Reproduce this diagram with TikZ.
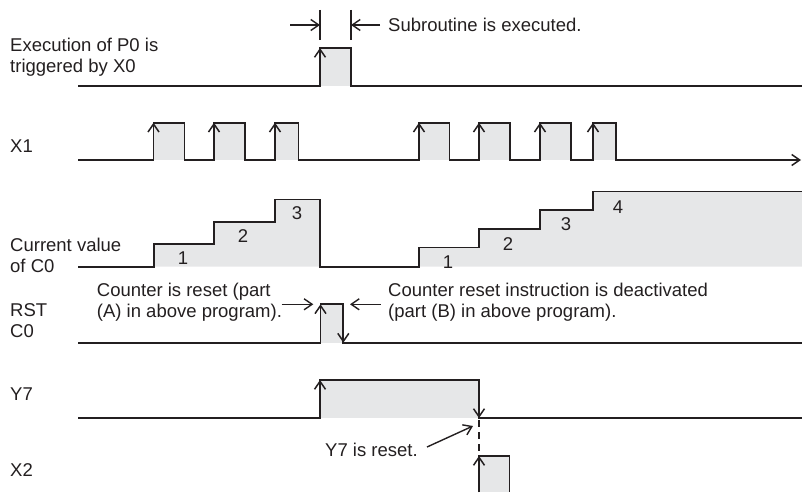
\documentclass[tikz,border=0pt]{standalone}
\usepackage{fontspec}
\setmainfont{Liberation Sans}
\usetikzlibrary{arrows.meta}
\definecolor{ink}{HTML}{231F20}
\definecolor{pulsefill}{HTML}{E6E7E8}
\begin{document}
\begin{tikzpicture}[x=1pt,y=-1pt,
  wave/.style={draw=ink,line width=1.8pt,line join=miter},
  hi/.style={fill=pulsefill,draw=none},
  edgetip/.style={draw=ink,line width=1.8pt,-{Straight Barb[length=8pt,width=11pt,line width=1.5pt]}},
  pointer/.style={draw=ink,line width=1.4pt,-{Straight Barb[length=8pt,width=11pt,line width=1.4pt]}},
  tick/.style={draw=ink,line width=1.4pt},
  lbl/.style={anchor=west,inner sep=0pt,text=ink,font=\fontsize{18.5}{21}\selectfont,align=left},
]
\useasboundingbox (0,0) rectangle (802,492);

% ---------- signal names ----------
\node[lbl] (nP0)  at (10,57)  {Execution of P0 is\\triggered by X0};
\node[lbl] (nX1)  at (10,146) {X1};
\node[lbl] (nC0)  at (10,255) {Current value\\of C0};
\node[lbl] (nRST) at (10,321) {RST\\C0};
\node[lbl] (nY7)  at (10,394) {Y7};
\node[lbl] (nX2)  at (10,470) {X2};

% ---------- P0 execution ----------
\fill[hi] (320,48) rectangle (351,86);
\draw[wave] (78,86) -- (320,86) -- (320,48) -- (351,48) -- (351,86) -- (802,86);
\draw[edgetip] (320,86) -- (320,48);

% subroutine duration marker
\draw[tick] (320,10) -- (320,40);
\draw[tick] (351,10) -- (351,40);
\coordinate (durL) at (290,25);
\coordinate (durR) at (380,25);
\draw[pointer] (durL) -- (320,25);
\draw[pointer] (durR) -- (351,25);
\node[lbl] (nSub) at (388,25) {Subroutine is executed.};

% ---------- X1 ----------
\foreach \a/\b in {153.5/184.5,214/245,275/298.5,419/449.5,479/510,540/571,593/616}{
  \fill[hi] (\a,122.7) rectangle (\b,160);
}
\draw[wave,-{Straight Barb[length=8pt,width=11pt,line width=1.5pt]}]
  (78,160)
  -- (153.5,160) -- (153.5,122.7) -- (184.5,122.7) -- (184.5,160)
  -- (214,160) -- (214,122.7) -- (245,122.7) -- (245,160)
  -- (275,160) -- (275,122.7) -- (298.5,122.7) -- (298.5,160)
  -- (419,160) -- (419,122.7) -- (449.5,122.7) -- (449.5,160)
  -- (479,160) -- (479,122.7) -- (510,122.7) -- (510,160)
  -- (540,160) -- (540,122.7) -- (571,122.7) -- (571,160)
  -- (593,160) -- (593,122.7) -- (616,122.7) -- (616,160)
  -- (801,160);
\foreach \a in {153.5,214,275,419,479,540,593}{
  \draw[edgetip] (\a,160) -- (\a,122.7);
}

% ---------- current value of C0 ----------
\fill[hi] (154,266.7) -- (154,244) -- (214,244) -- (214,222) -- (275,222)
  -- (275,199.5) -- (320,199.5) -- (320,266.7) -- cycle;
\fill[hi] (419,266.7) -- (419,247.5) -- (479,247.5) -- (479,229) -- (540,229)
  -- (540,210) -- (593,210) -- (593,191.5) -- (802,191.5) -- (802,266.7) -- cycle;
\draw[wave] (78,266.7) -- (154,266.7) -- (154,244) -- (214,244) -- (214,222)
  -- (275,222) -- (275,199.5) -- (320,199.5) -- (320,266.7) -- (419,266.7)
  -- (419,247.5) -- (479,247.5) -- (479,229) -- (540,229) -- (540,210)
  -- (593,210) -- (593,191.5) -- (802,191.5);
\node[lbl,anchor=center] (v1a) at (183,258) {1};
\node[lbl,anchor=center] (v2a) at (243,236) {2};
\node[lbl,anchor=center] (v3a) at (297,213) {3};
\node[lbl,anchor=center] (v1b) at (448,262) {1};
\node[lbl,anchor=center] (v2b) at (508,244) {2};
\node[lbl,anchor=center] (v3b) at (566,224) {3};
\node[lbl,anchor=center] (v4b) at (618,207) {4};

% ---------- RST C0 ----------
\fill[hi] (320.5,304.3) rectangle (343.3,342.7);
\draw[wave] (78,342.7) -- (320.5,342.7) -- (320.5,304.3) -- (343.3,304.3) -- (343.3,342.7) -- (802,342.7);
\draw[edgetip] (320.5,342.7) -- (320.5,304.3);
\draw[edgetip] (343.3,304.3) -- (343.3,342.7);
\node[lbl] (nResA) at (96.7,302) {Counter is reset (part\\(A) in above program).};
\node[lbl] (nResB) at (388,302) {Counter reset instruction is deactivated\\(part (B) in above program).};
\coordinate (ptrA) at (313.3,304.3);
\coordinate (ptrB) at (350,304.3);
\draw[pointer] (281.7,304.3) -- (ptrA);
\draw[pointer] (380.7,304.3) -- (ptrB);

% ---------- Y7 ----------
\fill[hi] (320,380) rectangle (479,418);
\draw[wave] (78,418) -- (320,418) -- (320,380) -- (479,380) -- (479,418) -- (802,418);
\draw[edgetip] (320,418) -- (320,380);
\draw[edgetip] (479,380) -- (479,418);
\draw[ink,line width=1.6pt,dash pattern=on 7pt off 5pt] (479,420) -- (479,456);

% ---------- X2 ----------
\fill[hi] (479,456) rectangle (509.5,492);
\draw[wave] (479,492) -- (479,456) -- (509.5,456) -- (509.5,492);
\draw[edgetip] (479,492) -- (479,456);

% Y7 reset annotation
\node[lbl] (nY7r) at (325,450) {Y7 is reset.};
\coordinate (y7tail) at (427,447);
\coordinate (y7head) at (473,426);
\draw[pointer] (y7tail) -- (y7head);
\end{tikzpicture}
\end{document}
